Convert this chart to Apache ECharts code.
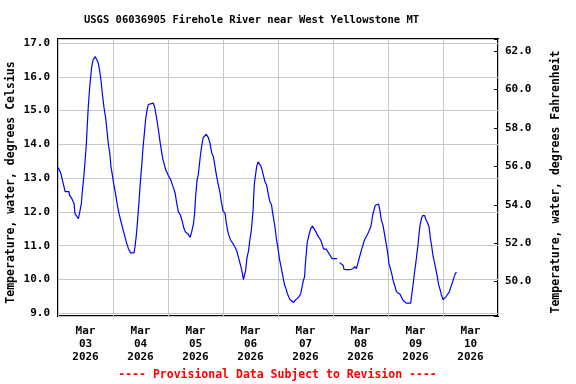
<!DOCTYPE html>
<html><head><meta charset="utf-8">
<script src="https://cdn.jsdelivr.net/npm/echarts@6/dist/echarts.min.js"></script>
<style>html,body{margin:0;padding:0;background:#fff}#c{width:576px;height:384px}</style>
</head><body><div id="c"></div>
<script>
// hours since 2026-03-03 00:00
const hours = [0,1.2,1.9,2.6,3.1,4.8,5.0,5.7,6.0,7.0,7.4,8.0,8.9,9.5,10.2,10.6,11.2,11.8,12.4,12.8,13.2,13.8,14.3,14.7,15.3,16.2,17.0,17.6,18.2,18.8,19.4,20.1,20.8,21.4,22.0,22.6,23.1,23.7,24.4,25.2,25.9,26.6,27.5,28.4,29.3,30.0,30.7,31.6,33.2,33.6,34.2,34.8,35.4,35.9,36.5,37.1,37.7,38.3,38.9,39.4,39.9,41.6,42.2,42.9,43.8,44.5,45.3,45.8,46.4,47.0,
48.2,49.2,50.2,51.1,51.8,52.5,53.4,54.3,55.0,55.7,56.7,57.6,58.3,59.1,59.6,60.1,60.7,61.2,61.7,62.1,62.7,63.3,63.9,64.7,65.6,66.3,67.1,67.8,68.5,69.1,69.8,70.6,71.3,72.0,72.9,73.4,74.0,74.6,75.3,76.0,76.7,77.4,78.1,78.9,79.6,80.0,80.6,80.9,81.4,81.9,82.4,83.2,83.7,84.3,84.7,85.2,85.4,85.7,86.3,86.7,87.3,87.9,88.6,89.2,89.9,90.3,91.0,91.7,92.4,93.2,93.7,94.3,94.6,95.3,
96.0,96.6,97.2,97.8,98.3,98.9,99.5,100.1,100.7,101.2,101.8,102.8,103.6,104.3,105.0,105.9,106.5,107.1,107.6,107.9,108.4,108.8,109.2,109.7,110.3,111.0,111.7,112.3,113.2,113.9,114.6,115.4,115.9,117.1,117.8,118.7,119.6,121.8,122.3,122.9,123.7,124.4,124.8,125.8,127.3,128.7,129.5,130.2,130.6,131.2,131.8,132.4,133.0,133.5,134.1,134.7,135.3,135.9,136.5,136.9,137.3,137.9,138.5,139.1,139.9,140.5,141.1,141.8,142.3,
143.3,143.9,144.4,145.0,145.6,146.2,146.9,147.5,148.1,149.1,149.8,150.6,151.3,152.0,153.9,154.5,155.1,155.6,156.2,156.7,157.1,157.5,158.0,158.6,159.1,160.0,160.6,161.2,161.9,162.5,163.1,163.6,164.2,164.8,165.4,166.0,166.6,167.3,168.0,168.7,169.2,169.9,170.6,171.2,171.8,172.4,173.0,173.5,174.1];
const tempC = [13.32,13.15,12.95,12.75,12.6,12.6,12.5,12.5,12.4,12.25,11.95,11.9,11.8,12.0,12.25,12.6,13.0,13.5,14.04,14.6,15.1,15.67,16.02,16.29,16.5,16.6,16.5,16.4,16.17,15.87,15.47,15.08,14.78,14.39,13.99,13.74,13.35,13.1,12.8,12.5,12.2,11.96,11.71,11.47,11.24,11.07,10.92,10.79,10.79,10.97,11.32,11.81,12.36,12.85,13.35,13.9,14.34,14.78,15.03,15.18,15.22,15.22,15.1,14.83,14.44,14.09,13.74,13.55,13.4,13.25,
13.07,12.95,12.75,12.56,12.26,12.01,11.91,11.7,11.5,11.4,11.35,11.25,11.4,11.65,11.95,12.5,12.95,13.1,13.4,13.65,13.95,14.19,14.24,14.3,14.2,14.04,13.74,13.64,13.35,13.1,12.85,12.6,12.3,12.03,11.96,11.7,11.45,11.3,11.17,11.1,11.07,10.94,10.82,10.62,10.57,10.33,10.13,10.0,10.0,10.28,10.62,10.87,11.17,11.42,11.71,12.11,12.5,12.85,13.15,13.35,13.48,13.5,13.35,13.2,13.15,12.9,12.8,12.55,12.32,12.2,11.96,11.71,11.6,11.21,
10.92,10.62,10.42,10.22,10.03,9.83,9.73,9.58,9.48,9.41,9.38,9.32,9.39,9.44,9.48,9.58,9.78,9.98,10.08,10.42,10.82,11.12,11.22,11.37,11.51,11.58,11.56,11.44,11.32,11.24,11.17,11.02,10.9,10.9,10.82,10.72,10.62,10.62,null,10.5,10.45,10.42,10.3,10.29,10.29,10.32,10.38,10.32,10.42,10.57,10.72,10.87,11.0,11.12,11.22,11.27,11.37,11.47,11.56,11.71,11.91,12.06,12.2,12.23,12.23,12.03,11.76,11.61,11.42,
11.02,10.77,10.48,10.33,10.18,9.98,9.83,9.68,9.61,9.58,9.53,9.38,9.35,9.3,9.3,9.63,9.93,10.23,10.52,10.82,11.02,11.32,11.61,11.81,11.89,11.89,11.76,11.69,11.56,11.22,10.97,10.72,10.52,10.33,10.13,9.88,9.73,9.55,9.41,9.41,9.48,9.55,9.61,9.73,9.85,9.98,10.1,10.2,10.2];
const dayLabels = ['Mar\n03\n2026','Mar\n04\n2026','Mar\n05\n2026','Mar\n06\n2026','Mar\n07\n2026','Mar\n08\n2026','Mar\n09\n2026','Mar\n10\n2026'];
const titleText = 'USGS 06036905 Firehole River near West Yellowstone MT';
const leftName = 'Temperature, water, degrees Celsius';
const rightName = 'Temperature, water, degrees Fahrenheit';
const footText = '---- Provisional Data Subject to Revision ----';

const FONT = '"DejaVu Sans Mono", monospace';
const chart = echarts.init(document.getElementById('c'), null, {renderer: 'canvas'});
const lbl = {fontFamily: FONT, fontWeight: 'bold', fontSize: 11, color: '#000'};
chart.setOption({
  animation: false,
  backgroundColor: '#fff',
  grid: {left: 58, right: 78, top: 39, bottom: 68, show: true, borderColor: '#000', borderWidth: 2, backgroundColor: 'transparent'},
  xAxis: [
    {type: 'value', min: 0, max: 192, interval: 24, position: 'top',
     axisLine: {show: false}, axisTick: {show: false}, axisLabel: {show: false},
     splitLine: {show: true, lineStyle: {color: '#c8c8c8', width: 1}}},
    {type: 'category', data: dayLabels, boundaryGap: true, position: 'bottom',
     axisLine: {show: false}, axisTick: {show: false}, splitLine: {show: false},
     axisLabel: Object.assign({interval: 0, margin: 9, lineHeight: 13}, lbl)}
  ],
  yAxis: [
    {type: 'value', min: 8.92, max: 17.12, minInterval: 1, maxInterval: 1, position: 'left',
     axisLine: {show: false}, axisTick: {show: false},
     splitLine: {show: true, lineStyle: {color: '#c8c8c8', width: 1}},
     axisLabel: Object.assign({margin: 8, formatter: v => Math.abs(v - Math.round(v)) < 1e-6 ? v.toFixed(1) : ''}, lbl)},
    {type: 'value', min: 48.21, max: 62.63, minInterval: 2, maxInterval: 2, position: 'right',
     axisLine: {show: false}, axisTick: {show: true, inside: true, length: 4, lineStyle: {color: '#000', width: 1}},
     splitLine: {show: false},
     axisLabel: Object.assign({margin: 7, formatter: v => (Math.abs(v - Math.round(v)) < 1e-6 && Math.round(v) % 2 === 0) ? v.toFixed(1) : ''}, lbl)}
  ],
  graphic: [
    {type: 'text', x: 251.5, y: 20, style: {text: titleText, font: 'bold 10.5px ' + FONT, fill: '#000', textAlign: 'center', textVerticalAlign: 'middle'}},
    {type: 'text', x: 277.5, y: 375, style: {text: footText, font: 'bold 11.5px ' + FONT, fill: '#ff0000', textAlign: 'center', textVerticalAlign: 'middle'}},
    {type: 'text', x: 11.5, y: 182.5, rotation: Math.PI / 2, style: {text: leftName, font: 'bold 11.5px ' + FONT, fill: '#000', textAlign: 'center', textVerticalAlign: 'middle'}},
    {type: 'text', x: 556.5, y: 182, rotation: Math.PI / 2, style: {text: rightName, font: 'bold 11.5px ' + FONT, fill: '#000', textAlign: 'center', textVerticalAlign: 'middle'}}
  ],
  series: [{
    type: 'line', xAxisIndex: 0, yAxisIndex: 0, showSymbol: false, connectNulls: false,
    lineStyle: {color: '#0000ff', width: 1.2},
    data: hours.map((h, i) => [h, tempC[i]])
  }]
});
</script></body></html>
